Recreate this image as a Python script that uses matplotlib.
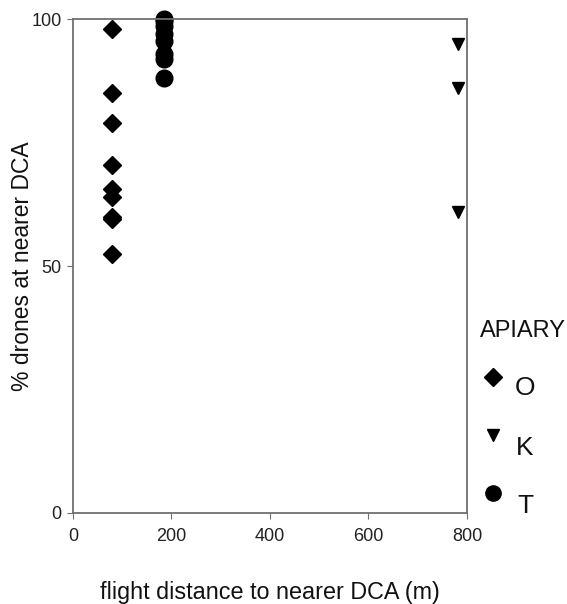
import matplotlib
matplotlib.use('Agg')
import matplotlib.pyplot as plt
from matplotlib.lines import Line2D

plt.rcParams['font.family'] = ['Liberation Sans', 'DejaVu Sans']

# apiary O
dist_o = [80, 80, 80, 80, 80, 80, 80, 80, 80]
pct_o = [98, 85, 79, 70.5, 65.5, 64, 60, 59.5, 52.5]
# apiary K
dist_k = [782, 782, 782]
pct_k = [95, 86, 61]
# apiary T
dist_t = [185, 185, 185, 185, 185, 185, 185, 185]
pct_t = [100, 99.5, 98.5, 97, 95.5, 93, 92, 88]

xticks = [0, 200, 400, 600, 800]
yticks = [0, 50, 100]
apiaries = ['O', 'K', 'T']

fig = plt.figure(figsize=(5.67, 6.04), dpi=100)
ax = fig.add_axes([0.1287, 0.1507, 0.6949, 0.8178])

ax.plot(dist_o, pct_o, 'kD', ms=9.5, clip_on=False)
ax.plot(dist_k, pct_k, 'kv', ms=8.5, clip_on=False)
ax.plot(dist_t, pct_t, 'ko', ms=12, clip_on=False)

ax.set_xlim(0, 800)
ax.set_ylim(0, 100)
ax.set_xticks(xticks)
ax.set_yticks(yticks)
ax.tick_params(labelsize=13, direction='out', length=4, color='#707070', labelcolor='#222222')
ax.tick_params(axis='x', pad=7)
ax.tick_params(axis='y', pad=4)
for s in ax.spines.values():
    s.set_color('#707070')
    s.set_linewidth(1.3)

ax.set_xlabel('flight distance to nearer DCA (m)', fontsize=16.8, color='#111111')
ax.set_ylabel('% drones at nearer DCA', fontsize=16.5, color='#111111')
ax.xaxis.set_label_coords(0.5, -0.137)
ax.yaxis.set_label_coords(-0.1, 0.5)

# legend outside right
fig.text(480/567, 1-337/604, 'APIARY', fontsize=17, va='baseline', ha='left', color='#111111')
mk = ['D', 'v', 'o']
msz = [9, 8, 11]
mpos = [377, 435, 493]
tpos = [395, 455, 513]
for lab, m, s, yp, tp in zip(apiaries, mk, msz, mpos, tpos):
    fig.add_artist(Line2D([493/567], [1-yp/604], marker=m, ms=s, color='k',
                          linestyle='none', transform=fig.transFigure))
    fig.text(525/567, 1-tp/604, lab, fontsize=19, va='baseline', ha='center', color='#111111')

fig.savefig('out.png', dpi=100)
